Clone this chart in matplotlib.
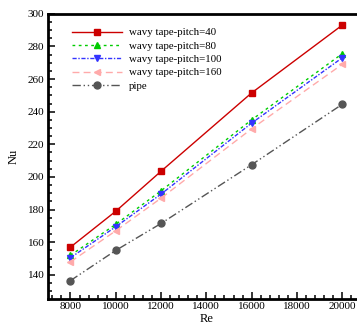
import matplotlib
matplotlib.use("Agg")
import matplotlib.pyplot as plt
from matplotlib.ticker import MultipleLocator

plt.rcParams['font.family'] = ['Liberation Serif', 'DejaVu Serif']

# data
re = [8000, 10000, 12000, 16000, 20000]
nu_p40 = [157, 179, 203.5, 251.5, 293]
nu_p80 = [152, 171, 191.5, 235, 275.5]
nu_p100 = [150.5, 169.5, 189.5, 233, 273]
nu_p160 = [148, 167, 187, 229.5, 269]
nu_pipe = [136.5, 155, 171.5, 207.5, 244.5]

fig = plt.figure(figsize=(3.57, 3.27), dpi=100)
ax = fig.add_axes([0.134, 0.086, 0.888, 0.872])

ms = 5
ax.plot(re, nu_p40, color='#cc0000', lw=1.0, marker='s', ms=ms,
        label='wavy tape-pitch=40')
ax.plot(re, nu_p80, color='#00cc00', lw=1.0, ls=(0, (2, 2.5)), marker='^', ms=ms,
        label='wavy tape-pitch=80')
ax.plot(re, nu_p100, color='#3333ff', lw=1.0, ls=(0, (3, 1.2, 1, 1.2)), marker='v', ms=ms,
        label='wavy tape-pitch=100')
ax.plot(re, nu_p160, color='#ffaaaa', lw=1.0, ls=(0, (5, 3)), marker='<', ms=ms,
        label='wavy tape-pitch=160')
ax.plot(re, nu_pipe, color='#555555', lw=1.0, ls=(0, (6, 2, 1, 2, 1, 2)), marker='o', ms=ms,
        label='pipe')

ax.set_xlim(7000, 21000)
ax.set_ylim(125.3, 300)
ax.xaxis.set_major_locator(MultipleLocator(2000))
ax.xaxis.set_minor_locator(MultipleLocator(400))
ax.yaxis.set_major_locator(MultipleLocator(20))
ax.yaxis.set_minor_locator(MultipleLocator(5))
ax.tick_params(which='both', direction='in', labelsize=8, width=1.1, pad=2.5)
ax.tick_params(which='major', length=5)
ax.tick_params(which='minor', length=3)
for s in ax.spines.values():
    s.set_linewidth(2)

ax.set_xlabel('Re', fontsize=9, labelpad=1)
ax.set_ylabel('Nu', fontsize=9, labelpad=6)

ax.legend(loc='upper left', bbox_to_anchor=(0.045, 0.985), frameon=False, fontsize=7.8,
          handlelength=4.6, handletextpad=0.7, labelspacing=0.35)

fig.savefig('out.png', dpi=100)
